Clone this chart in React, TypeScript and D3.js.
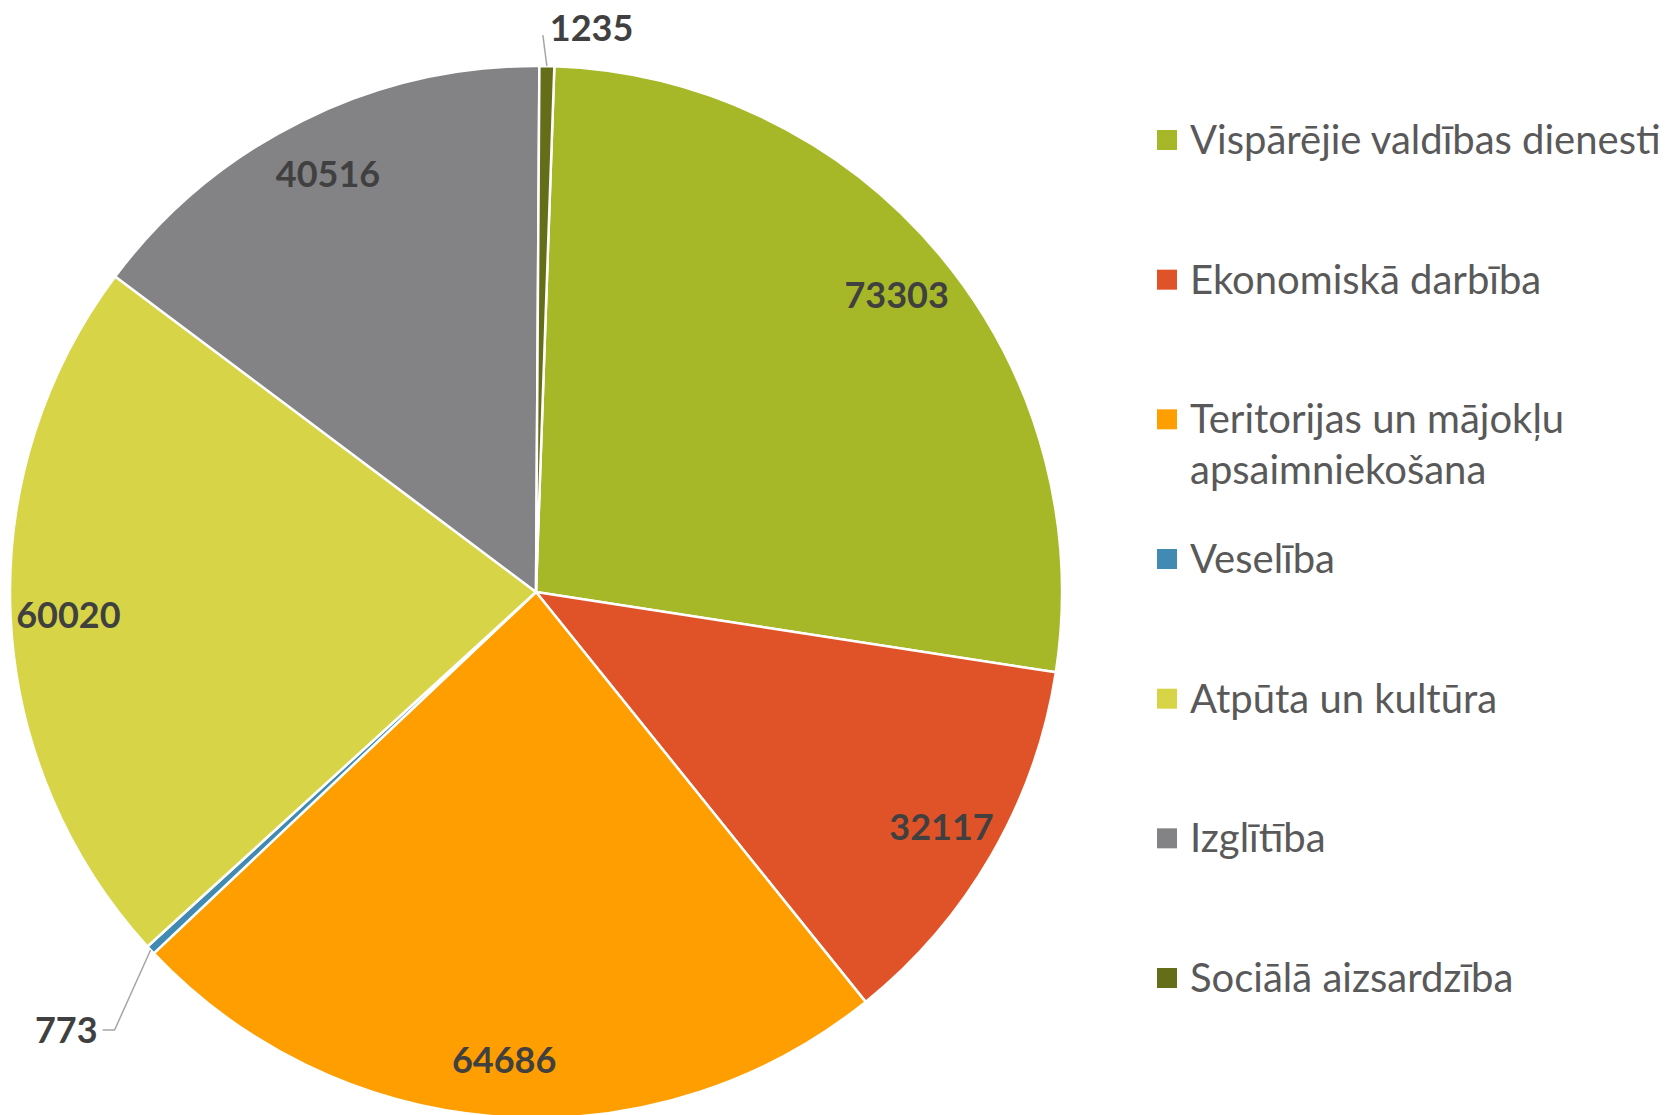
import React, { useEffect, useRef } from 'react';
import * as d3 from 'd3';

// categories, in legend / slice order
const categories = [
  'Vispārējie valdības dienesti',
  'Ekonomiskā darbība',
  'Teritorijas un mājokļu apsaimniekošana',
  'Veselība',
  'Atpūta un kultūra',
  'Izglītība',
  'Sociālā aizsardzība',
];
const values = [73303, 32117, 64686, 773, 60020, 40516, 1235];
const colors = ['#A6B828', '#E05328', '#FE9E00', '#418AB3', '#D7D447', '#838385', '#646E19'];
// legend text split into lines
const legendLines = [
  ['Vispārējie valdības dienesti'],
  ['Ekonomiskā darbība'],
  ['Teritorijas un mājokļu', 'apsaimniekošana'],
  ['Veselība'],
  ['Atpūta un kultūra'],
  ['Izglītība'],
  ['Sociālā aizsardzība'],
];

const W = 1669;
const H = 1115;
const FONT = 'Lato, "Open Sans", sans-serif';

const drawChart = (node: SVGSVGElement) => {
  const svg = d3.select(node).attr('width', W).attr('height', H);
  svg.selectAll('*').remove();

  const cx = 536;
  const cy = 592;
  const R = 526;
  const start = (2 * Math.PI) / 180;

  const pieGen = d3.pie<number>().sort(null).value((d) => d)
    .startAngle(start).endAngle(start + 2 * Math.PI);
  const arcs = pieGen(values);

  const arc = d3.arc<d3.PieArcDatum<number>>().innerRadius(0).outerRadius(R);
  const labelArc = d3.arc<d3.PieArcDatum<number>>().innerRadius(R * 0.89).outerRadius(R * 0.89);

  const g = svg.append('g').attr('transform', `translate(${cx},${cy})`);

  g.selectAll('path')
    .data(arcs)
    .enter()
    .append('path')
    .attr('d', arc)
    .attr('fill', (d, i) => colors[i])
    .attr('stroke', '#fff')
    .attr('stroke-width', 2.5)
    .attr('stroke-linejoin', 'round');

  // small slices get an outside label with a leader line
  const outside: Record<number, { dx: number; dy: number; side: 'start' | 'end' }> = {
    3: { dx: -36, dy: 80, side: 'end' },
    6: { dx: -4, dy: -31, side: 'start' },
  };

  arcs.forEach((d, i) => {
    const mid = (d.startAngle + d.endAngle) / 2;
    if (outside[i]) {
      const o = outside[i];
      const ex = R * Math.sin(mid);
      const ey = -R * Math.cos(mid);
      const kx = ex + o.dx;
      const ky = ey + o.dy;
      let pts: [number, number][];
      let tx: number;
      let ty: number;
      if (o.side === 'end') {
        pts = [[ex, ey], [kx, ky], [kx - 12, ky]];
        tx = kx - 17;
        ty = ky - 1;
      } else {
        pts = [[ex, ey], [kx, ky]];
        tx = kx + 7;
        ty = ky - 8;
      }
      g.append('path')
        .attr('d', d3.line()(pts))
        .attr('fill', 'none')
        .attr('stroke', '#A6A6A6')
        .attr('stroke-width', 1.5);
      g.append('text')
        .attr('x', tx)
        .attr('y', ty)
        .attr('text-anchor', o.side)
        .attr('dominant-baseline', 'central')
        .attr('font-family', FONT)
        .attr('font-weight', 'bold')
        .attr('font-size', 36)
        .attr('fill', '#404040')
        .text(d.data);
    } else {
      const [lx, ly] = labelArc.centroid(d);
      g.append('text')
        .attr('x', lx)
        .attr('y', ly)
        .attr('text-anchor', 'middle')
        .attr('dominant-baseline', 'central')
        .attr('font-family', FONT)
        .attr('font-weight', 'bold')
        .attr('font-size', 36)
        .attr('fill', '#404040')
        .text(d.data);
    }
  });

  // legend
  const legendY = d3.scaleLinear().domain([0, categories.length - 1]).range([140, 978]);
  const legend = svg.append('g');
  categories.forEach((c, i) => {
    const y = legendY(i);
    legend.append('rect')
      .attr('x', 1157)
      .attr('y', y - 10)
      .attr('width', 20)
      .attr('height', 20)
      .attr('fill', colors[i]);
    const t = legend.append('text')
      .attr('font-family', FONT)
      .attr('font-size', 40)
      .attr('fill', '#595959');
    legendLines[i].forEach((line, j) => {
      t.append('tspan')
        .attr('x', 1190)
        .attr('y', y + 14 + j * 51)
        .text(line);
    });
  });
};

const App = () => {
  const ref = useRef<SVGSVGElement>(null);
  useEffect(() => {
    if (ref.current) drawChart(ref.current);
  }, []);
  return (
    <svg ref={ref} style={{ position: 'absolute', left: 0, top: 0, background: '#fff' }} />
  );
};

export default App;
